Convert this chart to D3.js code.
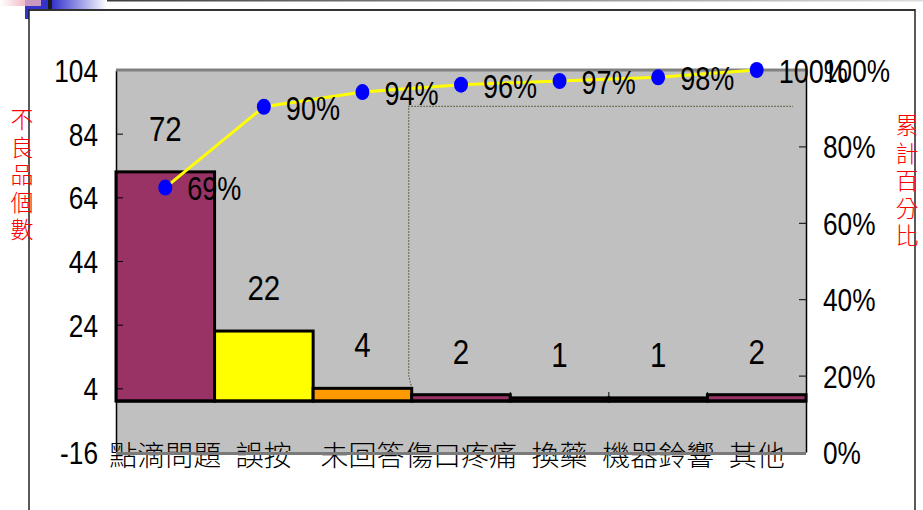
<!DOCTYPE html>
<html>
<head>
<meta charset="utf-8">
<script src="https://cdn.jsdelivr.net/npm/d3@7"></script>
<style>
  html, body { margin: 0; padding: 0; background: #fff; }
  svg { display: block; }
  .num { font-family: "Liberation Sans", Arial, sans-serif; fill: #000; }
  .cjk { font-family: "Noto Sans CJK TC", "Noto Sans CJK SC", sans-serif; font-weight: 300; }
</style>
</head>
<body>
<svg id="chart" width="923" height="510"></svg>
<script>
// Defect categories and counts (Pareto order)
const categories = ["點滴問題", "誤按", "未回答", "傷口疼痛", "換藥", "機器鈴響", "其他"];
const counts = [72, 22, 4, 2, 1, 1, 2];
const leftTicks = [-16, 4, 24, 44, 64, 84, 104];
const rightTicks = [0, 0.2, 0.4, 0.6, 0.8, 1.0];
const leftTitle = "不良品個數";
const rightTitle = "累計百分比";

// Bar fill palette
const barFill = ["#993366", "#FFFF00", "#FF9900", "#993366", "#993366", "#993366", "#993366"];

const total = d3.sum(counts);
const cumulative = d3.cumsum(counts).map(v => v / total);

const svg = d3.select("#chart");
const W = 923, H = 510;
const plot = { left: 116, right: 806, top: 70, bottom: 452 };
const narrow = 0.82; // horizontal squeeze for the narrow numeric face

// ---- slide decoration ----
const defs = svg.append("defs");
const g1 = defs.append("linearGradient").attr("id", "pinkFade");
g1.append("stop").attr("offset", "0%").attr("stop-color", "#ffffff");
g1.append("stop").attr("offset", "100%").attr("stop-color", "#f2b8c6");
const g2 = defs.append("linearGradient").attr("id", "blueFade");
g2.append("stop").attr("offset", "0%").attr("stop-color", "#3333cc");
g2.append("stop").attr("offset", "100%").attr("stop-color", "#ffffff");
const g3 = defs.append("linearGradient").attr("id", "greyFade");
g3.append("stop").attr("offset", "0%").attr("stop-color", "#333333");
g3.append("stop").attr("offset", "100%").attr("stop-color", "#dddddd");

const deco = svg.append("g");
deco.append("rect").attr("x", 52).attr("y", 0).attr("width", W - 52).attr("height", 1.5).attr("fill", "url(#greyFade)");
deco.append("rect").attr("x", 0).attr("y", 0).attr("width", 26).attr("height", 6).attr("fill", "url(#pinkFade)");
deco.append("rect").attr("x", 25).attr("y", 0).attr("width", 16).attr("height", 6).attr("fill", "#c89ac0");
deco.append("rect").attr("x", 25).attr("y", 6).attr("width", 23).attr("height", 4).attr("fill", "#3333cc");
deco.append("rect").attr("x", 25).attr("y", 6).attr("width", 4).attr("height", 13).attr("fill", "#3333cc");
deco.append("rect").attr("x", 41).attr("y", 0).attr("width", 7).attr("height", 10).attr("fill", "#3333cc");
deco.append("rect").attr("x", 48).attr("y", 0).attr("width", 4).attr("height", 10).attr("fill", "#1a1a1a");
deco.append("rect").attr("x", 52).attr("y", 0).attr("width", 55).attr("height", 10).attr("fill", "url(#blueFade)");

// slide frame
deco.append("line").attr("x1", 29).attr("x2", 915).attr("y1", 10).attr("y2", 10).attr("stroke", "#333").attr("stroke-width", 2);
deco.append("line").attr("x1", 29).attr("x2", 29).attr("y1", 9).attr("y2", H).attr("stroke", "#222").attr("stroke-width", 1.5);
deco.append("line").attr("x1", 915).attr("x2", 915).attr("y1", 9).attr("y2", H).attr("stroke", "#222").attr("stroke-width", 1.5);

// ---- scales ----
const x = d3.scaleBand().domain(categories).range([plot.left, plot.right]).padding(0);
const yL = d3.scaleLinear().domain([-16, 104]).range([plot.bottom, plot.top]);
const yR = d3.scaleLinear().domain([0, 1]).range([plot.bottom, plot.top]);
const cx = c => x(c) + x.bandwidth() / 2;

// plot area
svg.append("rect")
  .attr("x", plot.left).attr("y", plot.top)
  .attr("width", plot.right - plot.left).attr("height", plot.bottom - plot.top)
  .attr("fill", "#C0C0C0");

// dotted guide from the third bar up to the 90% level
const guideX = x(categories[2]) + x.bandwidth() - 3;
svg.append("path")
  .attr("d", `M${guideX + 3},${yL(counts[2])} L${guideX},${yL(counts[2]) - 13} L${guideX},${yR(0.905)} L${plot.right - 13},${yR(0.905)}`)
  .attr("fill", "none").attr("stroke", "#5c5c3a").attr("stroke-width", 1.2).attr("stroke-dasharray", "1.5,1.5");

// bars
svg.append("g").selectAll("rect")
  .data(categories)
  .join("rect")
  .attr("x", c => x(c))
  .attr("y", (c, i) => yL(counts[i]))
  .attr("width", x.bandwidth())
  .attr("height", (c, i) => yL(0) - yL(counts[i]))
  .attr("fill", (c, i) => barFill[i])
  .attr("stroke", "#000").attr("stroke-width", 3);

// zero baseline and category ticks
svg.append("line")
  .attr("x1", plot.left).attr("x2", plot.right)
  .attr("y1", yL(0)).attr("y2", yL(0))
  .attr("stroke", "#000").attr("stroke-width", 3);
svg.append("g").selectAll("line")
  .data(categories.slice(1))
  .join("line")
  .attr("x1", c => x(c)).attr("x2", c => x(c))
  .attr("y1", yL(0)).attr("y2", yL(0) - 9)
  .attr("stroke", "#000").attr("stroke-width", 1);

// left axis
const axL = svg.append("g").attr("transform", `translate(${plot.left},0)`)
  .call(d3.axisLeft(yL).tickValues(leftTicks).tickSize(-7).tickSizeOuter(0).tickFormat(d => String(d)));
axL.select(".domain").attr("stroke", "#000").attr("stroke-width", 1.5);
axL.selectAll(".tick line").attr("stroke", "#000");
axL.selectAll(".tick text")
  .attr("class", "num").attr("x", null).attr("dy", "0.36em")
  .attr("transform", `translate(-18,0) scale(${narrow},1)`)
  .attr("text-anchor", "end").style("font-size", "32px");

// right axis
const axR = svg.append("g").attr("transform", `translate(${plot.right},0)`)
  .call(d3.axisRight(yR).tickValues(rightTicks).tickSize(-7).tickSizeOuter(0).tickFormat(d3.format(".0%")));
axR.select(".domain").attr("stroke", "#000").attr("stroke-width", 1.5);
axR.selectAll(".tick line").attr("stroke", "#000");
axR.selectAll(".tick text")
  .attr("class", "num").attr("x", null).attr("dy", "0.36em")
  .attr("transform", `translate(17,0) scale(${narrow},1)`)
  .attr("text-anchor", "start").style("font-size", "32px");

// plot top border
svg.append("line")
  .attr("x1", plot.left).attr("x2", plot.right)
  .attr("y1", plot.top).attr("y2", plot.top)
  .attr("stroke", "#808080").attr("stroke-width", 3);

// category labels
svg.append("g").selectAll("text")
  .data(categories)
  .join("text")
  .attr("class", "cjk")
  .attr("x", c => cx(c)).attr("y", plot.bottom + 2)
  .attr("text-anchor", "middle").attr("dominant-baseline", "central")
  .style("font-size", "28px").attr("fill", "#000")
  .text(c => c);

// plot bottom border, over the labels
svg.append("line")
  .attr("x1", plot.left).attr("x2", plot.right)
  .attr("y1", plot.bottom + 1.5).attr("y2", plot.bottom + 1.5)
  .attr("stroke", "#7a7a7a").attr("stroke-width", 3);

// bar value labels
svg.append("g").selectAll("text")
  .data(categories)
  .join("text")
  .attr("class", "num")
  .attr("text-anchor", "middle")
  .attr("transform", (c, i) => `translate(${cx(c)},${yL(counts[i]) - 31}) scale(${narrow},1)`)
  .style("font-size", "36px")
  .text((c, i) => counts[i]);

// cumulative line
svg.append("path")
  .datum(categories)
  .attr("d", d3.line().x(c => cx(c)).y((c, i) => yR(cumulative[i])))
  .attr("fill", "none").attr("stroke", "#FFFF00").attr("stroke-width", 3);

svg.append("g").selectAll("ellipse")
  .data(categories)
  .join("ellipse")
  .attr("cx", c => cx(c)).attr("cy", (c, i) => yR(cumulative[i]))
  .attr("rx", 7).attr("ry", 8)
  .attr("fill", "#0000FF");

svg.append("g").selectAll("text")
  .data(categories)
  .join("text")
  .attr("class", "num")
  .attr("dy", "0.36em")
  .attr("transform", (c, i) => `translate(${cx(c) + 22},${yR(cumulative[i]) + 1}) scale(${narrow},1)`)
  .style("font-size", "33px")
  .text((c, i) => d3.format(".0%")(cumulative[i]));

// axis titles, set in vertical writing mode
function verticalTitle(str, xc, yTop) {
  svg.append("text")
    .attr("class", "cjk")
    .attr("x", xc).attr("y", yTop)
    .style("writing-mode", "vertical-rl")
    .style("letter-spacing", "4.5px")
    .style("font-size", "23px").attr("fill", "#FF0000")
    .text(str);
}
verticalTitle(leftTitle, 22, 108);
verticalTitle(rightTitle, 907, 114);
</script>
</body>
</html>
